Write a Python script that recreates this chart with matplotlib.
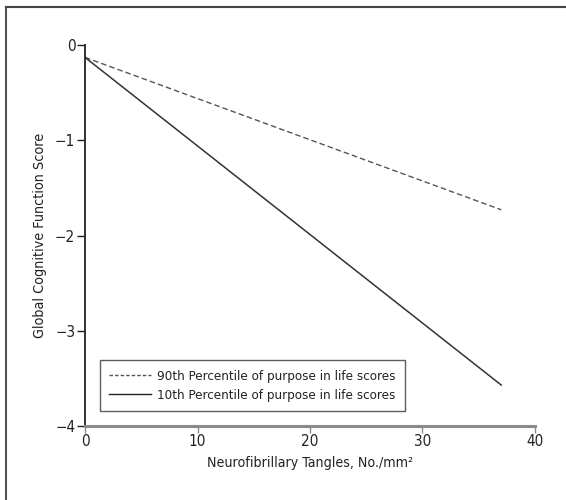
import matplotlib
matplotlib.use("Agg")
import matplotlib.pyplot as plt
from matplotlib import font_manager
from matplotlib.lines import Line2D

# Prefer a narrow/condensed sans face for all text
fpath = None
for pref in ("LiberationSansNarrow-Regular", "DejaVuSansCondensed.ttf"):
    for f in font_manager.fontManager.ttflist:
        if pref in f.fname:
            fpath = f.fname
            break
    if fpath:
        break
if fpath:
    font_manager.fontManager.addfont(fpath)
    fam = font_manager.FontProperties(fname=fpath).get_name()
    scale = 1.0
else:
    fam = "Liberation Sans"
    scale = 0.92
plt.rcParams["font.family"] = [fam, "DejaVu Sans"]
if "Condensed" in (fpath or ""):
    plt.rcParams["font.stretch"] = "condensed"

# Model-predicted cognitive score vs tangle density
tangles = [0, 37]
score_p90 = [-0.13, -1.73]
score_p10 = [-0.13, -3.57]
labels = ["90th Percentile of purpose in life scores",
          "10th Percentile of purpose in life scores"]
x_ticks = [0, 10, 20, 30, 40]
y_ticks = [0, -1, -2, -3, -4]

fig = plt.figure(figsize=(5.66, 5.0), dpi=100)
ax = fig.add_axes([0.1502, 0.148, 0.795, 0.762])

ax.plot(tangles, score_p90, color="#555555", lw=1.0, ls=(0, (4, 2.2)))
ax.plot(tangles, score_p10, color="#333333", lw=1.1)

ax.set_xlim(0, 40)
ax.set_ylim(-4, 0)
ax.set_xticks(x_ticks)
ax.set_yticks(y_ticks)
ax.set_yticklabels(["0", "\u22121", "\u22122", "\u22123", "\u22124"])

for s in ("top", "right"):
    ax.spines[s].set_visible(False)
ax.spines["left"].set_color("#222222")
ax.spines["left"].set_linewidth(1.3)
ax.spines["bottom"].set_color("#8a8a8a")
ax.spines["bottom"].set_linewidth(2.2)

ax.tick_params(axis="y", direction="out", length=6, width=1.0, color="#222222",
               labelsize=11 * scale, pad=1, labelcolor="#222222")
ax.tick_params(axis="x", direction="out", length=5, width=1.0, color="#8a8a8a",
               labelsize=11 * scale, pad=1, labelcolor="#222222")

ax.set_xlabel("Neurofibrillary Tangles, No./mm\u00b2", fontsize=10.2 * scale,
              color="#222222", labelpad=5)
ax.set_ylabel("Global Cognitive Function Score", fontsize=10.3 * scale,
              color="#222222", labelpad=5.5)

handles = [Line2D([], [], color="#555555", lw=1.0, ls=(0, (2.5, 1.5))),
           Line2D([], [], color="#222222", lw=1.0)]
leg = ax.legend(handles, labels, loc="lower left", bbox_to_anchor=(0.033, 0.039),
                prop={"size": 9.6 * scale}, frameon=True, fancybox=False,
                handlelength=3.15, handletextpad=0.45, borderpad=0.7,
                labelspacing=0.45, borderaxespad=0)
leg.get_frame().set_edgecolor("#333333")
leg.get_frame().set_linewidth(1.0)
for t in leg.get_texts():
    t.set_color("#222222")

# Page frame along the top and left edges
fig.add_artist(Line2D([6 / 566, 6 / 566], [0, 1 - 7 / 500], transform=fig.transFigure,
                      color="#555555", lw=1.5))
fig.add_artist(Line2D([6 / 566, 1], [1 - 7 / 500, 1 - 7 / 500], transform=fig.transFigure,
                      color="#444444", lw=1.5))

fig.savefig("out.png", dpi=100)
